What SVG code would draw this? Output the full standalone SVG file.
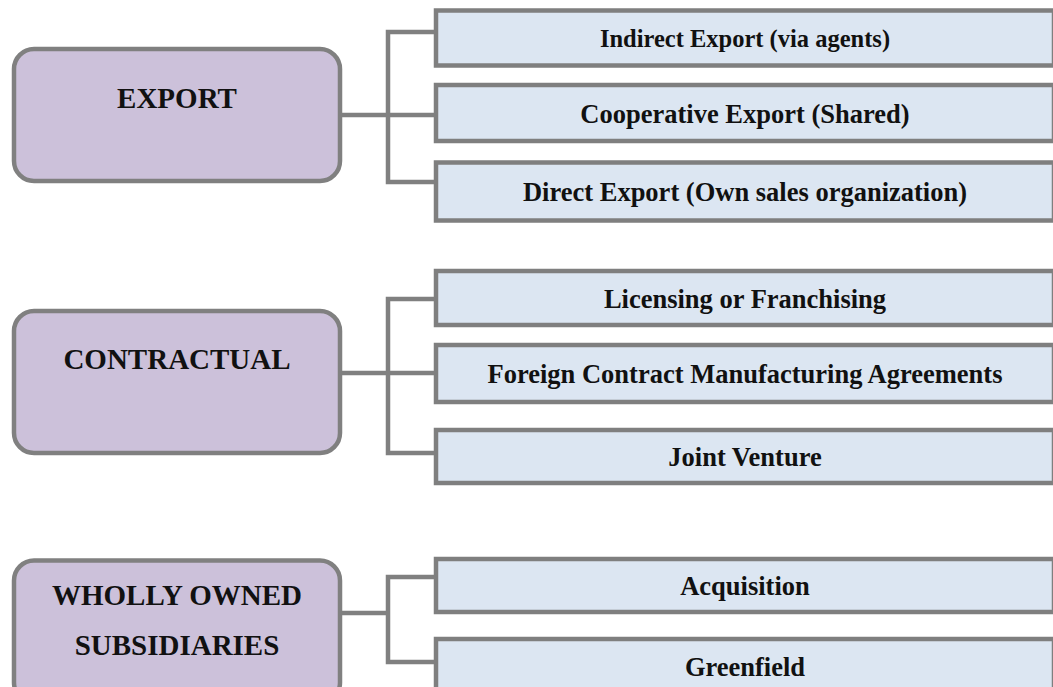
<svg xmlns="http://www.w3.org/2000/svg" width="1053" height="687" viewBox="0 0 1053 687">
<style>
.parent{fill:#CCC1DA;stroke:#808080;stroke-width:4.5}
.child{fill:#DCE6F2;stroke:#7F7F7F;stroke-width:4.5}
.conn{fill:none;stroke:#808080;stroke-width:4.5;stroke-linejoin:miter}
.pt{font-family:"Liberation Serif","Times New Roman",serif;font-weight:bold;font-size:29px;fill:#111;text-anchor:middle}
.ct{font-family:"Liberation Serif","Times New Roman",serif;font-weight:bold;font-size:26.5px;fill:#111;text-anchor:middle}
</style>
<rect width="1053" height="687" fill="#ffffff"/>
<g id="connectors">
  <path class="conn" d="M342 115 H388 M436 32 H388 V182 H436 M388 115 H436"/>
  <path class="conn" d="M342 373 H388 M436 299 H388 V453 H436 M388 373 H436"/>
  <path class="conn" d="M342 613 H388 M436 577 H388 V662 H436"/>
</g>
<g id="export">
  <rect class="parent" x="14" y="49" width="326" height="132" rx="20"/>
  <text class="pt" x="177" y="108">EXPORT</text>
</g>
<g id="indirect-export">
  <rect class="child" x="436" y="10.5" width="618" height="55"/>
  <text class="ct" x="745" y="47" style="font-size:24.5px">Indirect Export (via agents)</text>
</g>
<g id="cooperative-export">
  <rect class="child" x="436" y="85" width="618" height="56"/>
  <text class="ct" x="745" y="122.5">Cooperative Export (Shared)</text>
</g>
<g id="direct-export">
  <rect class="child" x="436" y="162.5" width="618" height="58"/>
  <text class="ct" x="745" y="201">Direct Export (Own sales organization)</text>
</g>
<g id="contractual">
  <rect class="parent" x="14" y="311" width="326" height="142" rx="20"/>
  <text class="pt" x="177" y="369">CONTRACTUAL</text>
</g>
<g id="licensing">
  <rect class="child" x="436" y="271" width="618" height="54"/>
  <text class="ct" x="745" y="307.5">Licensing or Franchising</text>
</g>
<g id="contract-manufacturing">
  <rect class="child" x="436" y="345" width="618" height="57"/>
  <text class="ct" x="745" y="383">Foreign Contract Manufacturing Agreements</text>
</g>
<g id="joint-venture">
  <rect class="child" x="436" y="430" width="618" height="53"/>
  <text class="ct" x="745" y="466">Joint Venture</text>
</g>
<g id="wholly-owned">
  <rect class="parent" x="14" y="560.5" width="326" height="142" rx="20"/>
  <text class="pt" x="177" y="605">WHOLLY OWNED</text>
  <text class="pt" x="177" y="655">SUBSIDIARIES</text>
</g>
<g id="acquisition">
  <rect class="child" x="436" y="559" width="618" height="53"/>
  <text class="ct" x="745" y="595">Acquisition</text>
</g>
<g id="greenfield">
  <rect class="child" x="436" y="639" width="618" height="56"/>
  <text class="ct" x="745" y="676">Greenfield</text>
</g>
</svg>
